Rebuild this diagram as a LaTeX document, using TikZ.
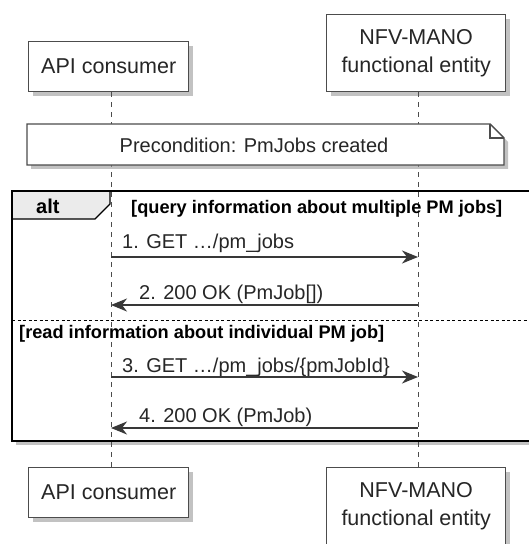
\documentclass[tikz,border=0pt]{standalone}
\usepackage{fontspec}
\setmainfont{Liberation Sans}
\usetikzlibrary{arrows.meta,shadows}

\begin{document}
\begin{tikzpicture}[x=1bp, y=-1bp,
    participant/.style={draw=black!70, line width=1.4bp, fill=white, align=center, inner sep=0pt,
        text=black!85, font=\fontsize{21.5bp}{28bp}\selectfont,
        drop shadow={shadow xshift=4bp, shadow yshift=-4bp, fill=black!40, opacity=0.6}},
    lifeline/.style={draw=black!70, line width=1bp, dash pattern=on 5bp off 5bp},
    msg/.style={draw=black!78, line width=1.5bp, -{Stealth[length=16bp, width=13bp, inset=5bp]}},
    msgtext/.style={font=\fontsize{20bp}{24bp}\selectfont, text=black!85, anchor=base west, inner sep=0pt},
    guard/.style={font=\fontsize{18.2bp}{20bp}\selectfont\bfseries, anchor=base west, inner sep=0pt}]

        \useasboundingbox (0,0) rectangle (529,544);

        % Lifelines (x positions)
        \coordinate (apiLine) at (111,0);
        \coordinate (nfvLine) at (418,0);

        % Participants (top)
        \node[participant, minimum width=160bp, minimum height=50bp, anchor=north west] (apiTop) at (28,41) {API consumer};
        \node[participant, minimum width=179bp, minimum height=77bp, anchor=north west] (nfvTop) at (326,14) {NFV-MANO\\functional entity};

        % Participants (bottom)
        \node[participant, minimum width=160bp, minimum height=50bp, anchor=north west] (apiBot) at (28,467) {API consumer};
        \node[participant, minimum width=179bp, minimum height=77bp, anchor=north west] (nfvBot) at (326,467) {NFV-MANO\\functional entity};

        % Frame background
        \fill[white, drop shadow={shadow xshift=4bp, shadow yshift=-4bp, fill=black!40, opacity=0.6}] (12,191) rectangle (545,441);

        % Lifelines
        \draw[lifeline] (apiLine |- apiTop.south) -- (apiLine |- apiBot.north);
        \draw[lifeline] (nfvLine |- nfvTop.south) -- (nfvLine |- nfvBot.north);

        % Precondition note
        \filldraw[fill=white, draw=black!70, line width=1.4bp, drop shadow={shadow xshift=4bp, shadow yshift=-4bp, fill=black!40, opacity=0.6}]
            (27,124) -- (490,124) -- (504,138) -- (504,165) -- (27,165) -- cycle;
        \draw[draw=black!70, line width=1.4bp] (490,124) -- (490,138) -- (504,138);
        \node[font=\fontsize{20bp}{24bp}\selectfont, text=black!85, anchor=base, inner sep=0pt] (pre) at (254,153) {Precondition: PmJobs created};

        % alt tab
        \filldraw[fill=black!8, draw=black, line width=1.4bp] (12,191) -- (110,191) -- (110,204) -- (95,219) -- (12,219) -- cycle;
        \node[font=\fontsize{20bp}{24bp}\selectfont\bfseries, anchor=base west, inner sep=0pt] (alt) at (36,214) {alt};

        % Frame
        \draw[line width=2.3bp] (12,191) rectangle (545,441);
        \draw[line width=1bp, dash pattern=on 3bp off 2.5bp] (12,320) -- (545,320);

        % Guards
        \node[guard] (g1) at (131,214) {[query information about multiple PM jobs]};
        \node[guard] (g2) at (19,338) {[read information about individual PM job]};

        % Messages
        \node[msgtext] (t1) at (122,248) {1. GET …/pm\_jobs};
        \draw[msg] (apiLine |- 0,257) -- (nfvLine |- 0,257);

        \node[msgtext] (t2) at (139,299) {2. 200 OK (PmJob[])};
        \draw[msg] (nfvLine |- 0,305) -- (apiLine |- 0,305);

        \node[msgtext] (t3) at (122,372) {3. GET …/pm\_jobs/\{pmJobId\}};
        \draw[msg] (apiLine |- 0,377) -- (nfvLine |- 0,377);

        \node[msgtext] (t4) at (139,422) {4. 200 OK (PmJob)};
        \draw[msg] (nfvLine |- 0,428) -- (apiLine |- 0,428);
\end{tikzpicture}
\end{document}
